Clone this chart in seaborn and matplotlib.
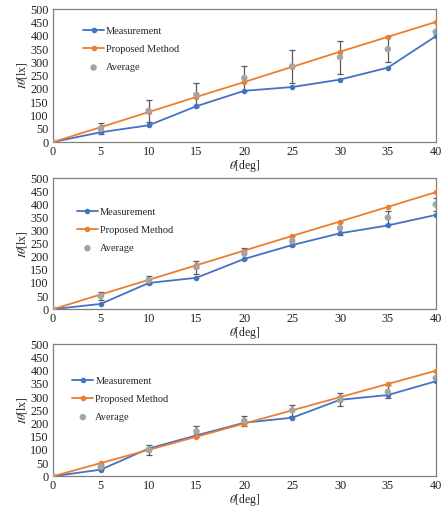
import matplotlib
matplotlib.use("Agg")
import matplotlib.pyplot as plt
import pandas as pd
import seaborn as sns

angles = [0, 5, 10, 15, 20, 25, 30, 35, 40]

measurement_1 = [0, 37, 63, 135, 193, 207, 235, 280, 398]
proposed_1 = [0, 56, 113, 170, 226, 283, 340, 396, 452]
average_1 = [0, 50, 117, 178, 241, 285, 320, 350, 415]
error_1 = [0, 21, 40, 45, 47, 63, 62, 50, 0]

measurement_2 = [0, 20, 100, 120, 192, 245, 290, 320, 360]
proposed_2 = [0, 56, 112, 168, 224, 280, 335, 391, 447]
average_2 = [0, 50, 110, 160, 212, 260, 310, 350, 400]
error_2 = [0, 15, 15, 25, 20, 20, 25, 25, 25]

measurement_3 = [0, 25, 105, 155, 203, 222, 290, 308, 360]
proposed_3 = [0, 50, 100, 150, 200, 250, 300, 350, 400]
average_3 = [0, 35, 100, 170, 210, 250, 290, 320, 372]
error_3 = [0, 8, 20, 22, 18, 20, 25, 25, 10]

panels = [
    (measurement_1, proposed_1, average_1, error_1),
    (measurement_2, proposed_2, average_2, error_2),
    (measurement_3, proposed_3, average_3, error_3),
]

sns.set_theme(style="white")
plt.rcParams["font.family"] = ["Liberation Serif", "DejaVu Serif"]
plt.rcParams["mathtext.fontset"] = "stix"

blue = "#4472C4"
orange = "#ED7D31"
grey = "#A5A5A5"

fig = plt.figure(figsize=(4.41, 5.11), dpi=100)
positions = [
    [0.120, 0.722, 0.868, 0.260],
    [0.120, 0.395, 0.868, 0.256],
    [0.120, 0.068, 0.868, 0.258],
]
legend_anchor = [(0.068, 0.90), (0.052, 0.81), (0.04, 0.79)]

for i, (meas, prop, avg, err) in enumerate(panels):
    ax = fig.add_axes(positions[i])
    df = pd.DataFrame({"angle": angles, "meas": meas, "prop": prop, "avg": avg, "err": err})

    ax.errorbar(df["angle"], df["avg"], yerr=df["err"], fmt="none",
                ecolor="#595959", elinewidth=0.9, capsize=2, capthick=0.9, zorder=1)
    sns.lineplot(data=df, x="angle", y="meas", ax=ax, color=blue, marker="o",
                 markersize=4, markeredgewidth=0, linewidth=1.3,
                 label="Measurement", zorder=3)
    sns.lineplot(data=df, x="angle", y="prop", ax=ax, color=orange, marker="o",
                 markersize=4, markeredgewidth=0, linewidth=1.3,
                 label="Proposed Method", zorder=3)
    sns.scatterplot(data=df, x="angle", y="avg", ax=ax, color=grey, s=22,
                    edgecolor="none", label="Average", zorder=4)

    ax.set_xlim(0, 40)
    ax.set_ylim(0, 500)
    ax.set_xticks(range(0, 41, 5))
    ax.set_yticks(range(0, 501, 50))
    ax.tick_params(axis="both", length=0, labelsize=8.8, pad=3, colors="#222222")
    ax.set_xlabel(r"$\theta$[deg]", fontsize=8.5, labelpad=0)
    ax.set_ylabel(r"$I\theta$[lx]", fontsize=8.5, labelpad=1)
    for spine in ax.spines.values():
        spine.set_color("#7f7f7f")
        spine.set_linewidth(0.9)

    ax.legend(loc="upper left", bbox_to_anchor=legend_anchor[i], frameon=False,
              fontsize=7.5, labelspacing=0.85, handlelength=2.0, handletextpad=0.2,
              borderaxespad=0)

fig.savefig("out.png", dpi=100)
